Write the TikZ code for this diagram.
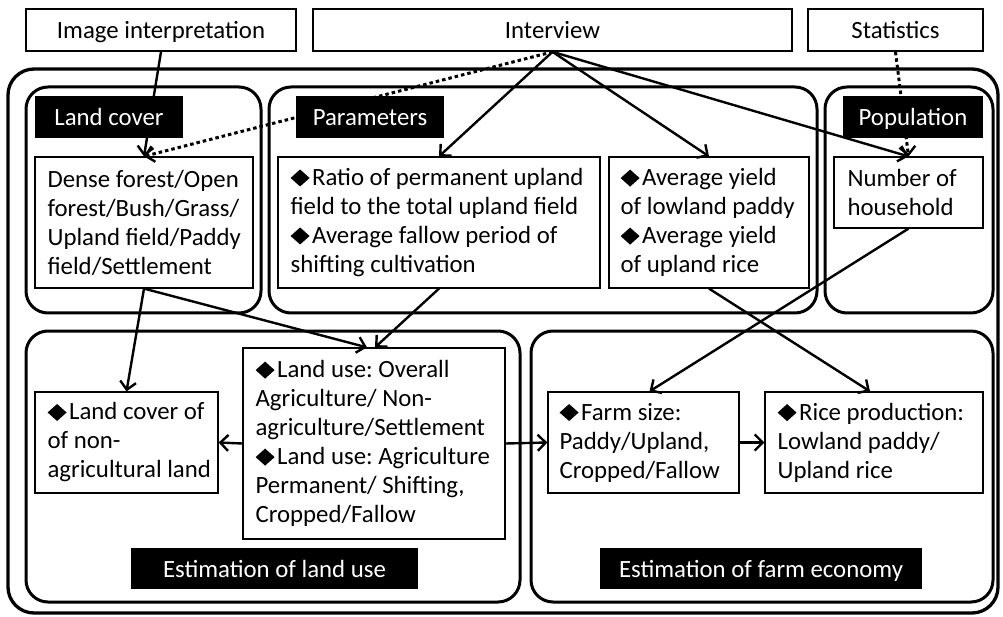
\documentclass[tikz,border=0pt]{standalone}
\usepackage{fontspec}
\setmainfont{Carlito}
\usetikzlibrary{arrows.meta}
\frenchspacing
\newcommand\dmd{\tikz[baseline=0pt,x=1pt,y=1pt]\fill[black] (0,7.5)--(9.5,-1)--(19,7.5)--(9.5,16)--cycle;\hspace{2.5pt}}
\tikzset{
  txt/.style={font=\fontsize{24.8}{29}\selectfont\frenchspacing},
  srcbox/.style={txt, draw, line width=1.7pt, minimum height=42pt, inner sep=0pt, text height=19.5pt, text depth=1.5pt},
  grp/.style={draw, line width=3pt, rounded corners=22pt},
  box/.style={draw, line width=1.2pt, inner sep=0pt},
  btext/.style={txt, align=left, anchor=west, inner sep=0pt},
  blab/.style={txt, fill=black, text=white, minimum height=42pt, inner sep=0pt, text height=19.5pt, text depth=1.5pt},
  tip/.style={-{Straight Barb[length=8pt,width=16pt,line width=2.4pt]}},
  arr/.style={line width=2.4pt, tip},
  dot/.style={line width=3pt, dash pattern=on 3.5pt off 3pt, tip}
}
\begin{document}
\begin{tikzpicture}[x=1pt,y=-1pt]
\useasboundingbox (0,0) rectangle (1003,617);
% groups
\draw[grp, line width=3.3pt, rounded corners=26pt] (8,69) rectangle (998,613);
\node[grp, minimum width=235pt, minimum height=226pt, inner sep=0] (glc) at (143.5,200) {};
\node[grp, minimum width=548pt, minimum height=226pt, inner sep=0] (gpar) at (543,200) {};
\node[grp, minimum width=168pt, minimum height=226pt, inner sep=0] (gpop) at (909,200) {};
\node[grp, minimum width=494pt, minimum height=271pt, inner sep=0] (glu) at (273,466.5) {};
\node[grp, minimum width=462pt, minimum height=271pt, inner sep=0] (gfe) at (762,466.5) {};
% source boxes
\node[srcbox, minimum width=270pt] (img) at (161,30) {Image interpretation};
\node[srcbox, minimum width=479pt] (intv) at (552.5,30) {Interview};
\node[srcbox, minimum width=175pt] (stat) at (895.5,30) {Statistics};
% content boxes
\node[box, minimum width=218pt, minimum height=131pt] (lcbox) at (144,222.5) {};
\node[btext] (lcboxt) at ([xshift=13pt]lcbox.west)
  {Dense forest/Open\\forest/Bush/Grass/\\Upland field/Paddy\\field/Settlement};
\node[box, minimum width=322pt, minimum height=131pt] (ratio) at (439,222.5) {};
\node[btext] (ratiot) at ([xshift=13pt]ratio.west)
  {\dmd Ratio of permanent upland\\field to the total upland field\\\dmd Average fallow period of\\shifting cultivation};
\node[box, minimum width=200pt, minimum height=131pt] (yield) at (709,222.5) {};
\node[btext] (yieldt) at ([xshift=12pt]yield.west)
  {\dmd Average yield\\of lowland paddy\\\dmd Average yield\\of upland rice};
\node[box, minimum width=149pt, minimum height=71pt] (hh) at (908.5,192.5) {};
\node[btext] (hht) at ([xshift=14pt]hh.west) {Number of\\household};
\node[box, minimum width=183pt, minimum height=101pt] (noag) at (126.5,442.5) {};
\node[btext] (noagt) at ([xshift=13pt]noag.west)
  {\dmd Land cover of\\of non-\\agricultural land};
\node[box, minimum width=262pt, minimum height=191pt] (landuse) at (374,443.5) {};
\node[btext] (landuset) at ([xshift=13pt]landuse.west)
  {\dmd Land use: Overall\\Agriculture/ Non-\\agriculture/Settlement\\\dmd Land use: Agriculture\\Permanent/ Shifting,\\Cropped/Fallow};
\node[box, minimum width=191pt, minimum height=101pt] (farm) at (643.5,442.5) {};
\node[btext] (farmt) at ([xshift=12pt]farm.west)
  {\dmd Farm size:\\Paddy/Upland,\\Cropped/Fallow};
\node[box, minimum width=218pt, minimum height=101pt] (rice) at (874,442.5) {};
\node[btext] (ricet) at ([xshift=13pt]rice.west)
  {\dmd Rice production:\\Lowland paddy/\\Upland rice};
% connectors
\draw[arr] (img.south) -- (lcbox.north);
\draw[dot] (intv.south) -- (lcbox.north);
\draw[arr] (intv.south) -- (ratio.north);
\draw[arr] (intv.south) -- (yield.north);
\draw[arr] (intv.south) -- (hh.north);
\draw[dot] (stat.south) -- (hh.north);
\draw[arr] (lcbox.south) -- (noag.north);
\draw[arr] (lcbox.south) -- ([xshift=-7pt]landuse.north);
\draw[arr] (ratio.south) -- ([xshift=1pt]landuse.north);
\draw[arr] (yield.south) -- ([xshift=-4pt]rice.north);
\draw[arr] (hh.south) -- ([xshift=6pt]farm.north);
\draw[arr] (landuse.west) -- (noag.east);
\draw[arr] (landuse.east) -- (farm.west);
\draw[arr] (farm.east) -- (rice.west);
% black labels
\node[blab, minimum width=148pt] (lclab) at (109,117) {Land cover};
\node[blab, minimum width=148pt] (parlab) at (370,117) {Parameters};
\node[blab, minimum width=140pt] (poplab) at (913,117) {Population};
\node[blab, minimum width=287pt, minimum height=41pt] (lulab) at (274.5,568.5) {Estimation of land use};
\node[blab, minimum width=322pt, minimum height=41pt] (felab) at (761,568.5) {Estimation of farm economy};
\end{tikzpicture}
\end{document}
